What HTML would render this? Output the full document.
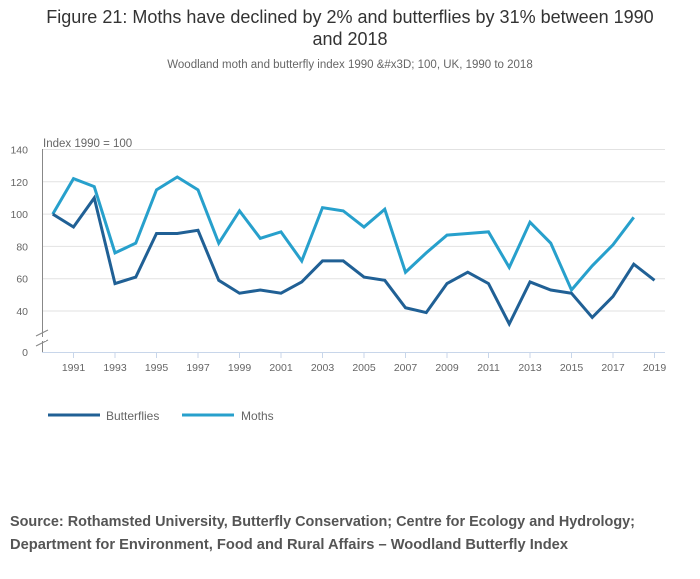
<!DOCTYPE html>
<html><head><meta charset="utf-8"><style>
body{margin:0;background:#fff;width:700px;height:574px;overflow:hidden;font-family:"Liberation Sans",sans-serif}
svg text{font-family:"Liberation Sans",sans-serif}
</style></head><body>
<svg id="chart" width="700" height="574" xmlns="http://www.w3.org/2000/svg">
<text x="350" y="23" text-anchor="middle" font-size="18" fill="#333">Figure 21: Moths have declined by 2% and butterflies by 31% between 1990</text>
<text x="350" y="45" text-anchor="middle" font-size="18" fill="#333">and 2018</text>
<text x="350" y="68" text-anchor="middle" font-size="11.5" fill="#666">Woodland moth and butterfly index 1990 &amp;#x3D; 100, UK, 1990 to 2018</text>
<text x="43" y="147" font-size="11.5" fill="#666">Index 1990 = 100</text>
<g id="grid"></g><g id="axes"></g><g id="series"></g>
<g>
<line x1="48" y1="415" x2="100" y2="415" stroke="#206095" stroke-width="3"/>
<text x="106" y="420" font-size="12" fill="#666">Butterflies</text>
<line x1="182" y1="415" x2="234" y2="415" stroke="#27a0cc" stroke-width="3"/>
<text x="241" y="420" font-size="12" fill="#666">Moths</text>
</g>
<text x="10" y="526" font-size="14.5" font-weight="bold" fill="#555" textLength="625" lengthAdjust="spacingAndGlyphs">Source: Rothamsted University, Butterfly Conservation; Centre for Ecology and Hydrology;</text>
<text x="10" y="549" font-size="14.5" font-weight="bold" fill="#555" textLength="558" lengthAdjust="spacingAndGlyphs">Department for Environment, Food and Rural Affairs – Woodland Butterfly Index</text>
</svg>
<script>
const years=[1990,1991,1992,1993,1994,1995,1996,1997,1998,1999,2000,2001,2002,2003,2004,2005,2006,2007,2008,2009,2010,2011,2012,2013,2014,2015,2016,2017,2018,2019];
const butterflies=[100,92,110,57,61,88,88,90,59,51,53,51,58,71,71,61,59,42,39,57,64,57,32,58,53,51,36,49,69,59];
const moths=[100,122,117,76,82,115,123,115,82,102,85,89,71,104,102,92,103,64,76,87,88,89,67,95,82,53,68,81,98];
const yTicks=[40,60,80,100,120,140];
const xTickYears=[1991,1993,1995,1997,1999,2001,2003,2005,2007,2009,2011,2013,2015,2017,2019];
const NS="http://www.w3.org/2000/svg";
function x(yr){return 73.5+(yr-1991)*20.75;}
function y(v){return 311-(v-40)*1.615;}
function mk(tag,attrs,parent){const e=document.createElementNS(NS,tag);for(const k in attrs)e.setAttribute(k,attrs[k]);parent.appendChild(e);return e;}
const grid=document.getElementById('grid'),axes=document.getElementById('axes'),ser=document.getElementById('series');
yTicks.forEach(v=>{
 const l=mk('line',{x1:43,x2:665,y1:y(v),y2:y(v),stroke:'#e2e2e2','stroke-width':1},grid);
 
 
 const t=mk('text',{x:28,y:y(v)+4,'text-anchor':'end','font-size':10.5,fill:'#666'},axes);
 t.textContent=v;
 
 
});
const z=mk('text',{x:28,y:356,'text-anchor':'end','font-size':10.5,fill:'#666'},axes);z.textContent='0';


mk('line',{x1:42.5,x2:42.5,y1:149,y2:352,stroke:'#888','stroke-width':1},axes);
mk('line',{x1:36,y1:336,x2:48,y2:330,stroke:'#888'},axes);
mk('line',{x1:36,y1:346,x2:48,y2:340,stroke:'#888'},axes);
mk('rect',{x:38,y:337,width:8,height:4,fill:'#fff'},axes);
mk('line',{x1:42,x2:665,y1:352.5,y2:352.5,stroke:'#c8d6ea'},axes);
xTickYears.forEach(yr=>{
 mk('line',{x1:x(yr),x2:x(yr),y1:352,y2:358,stroke:'#c8d6ea'},axes);
 const t=mk('text',{x:x(yr),y:371,'text-anchor':'middle','font-size':10.5,fill:'#666'},axes);
 t.textContent=yr;
 
 
});
function line(vals,color,name){
 const d=vals.map((v,i)=>(i?'L':'M')+x(years[i])+','+y(v)).join(' ');
 const p=mk('path',{d:d,fill:'none',stroke:color,'stroke-width':3,'stroke-linejoin':'miter'},ser);
 
 
}
line(moths,'#27a0cc','moths-line');
line(butterflies,'#206095','butterflies-line');
</script>
</body></html>
